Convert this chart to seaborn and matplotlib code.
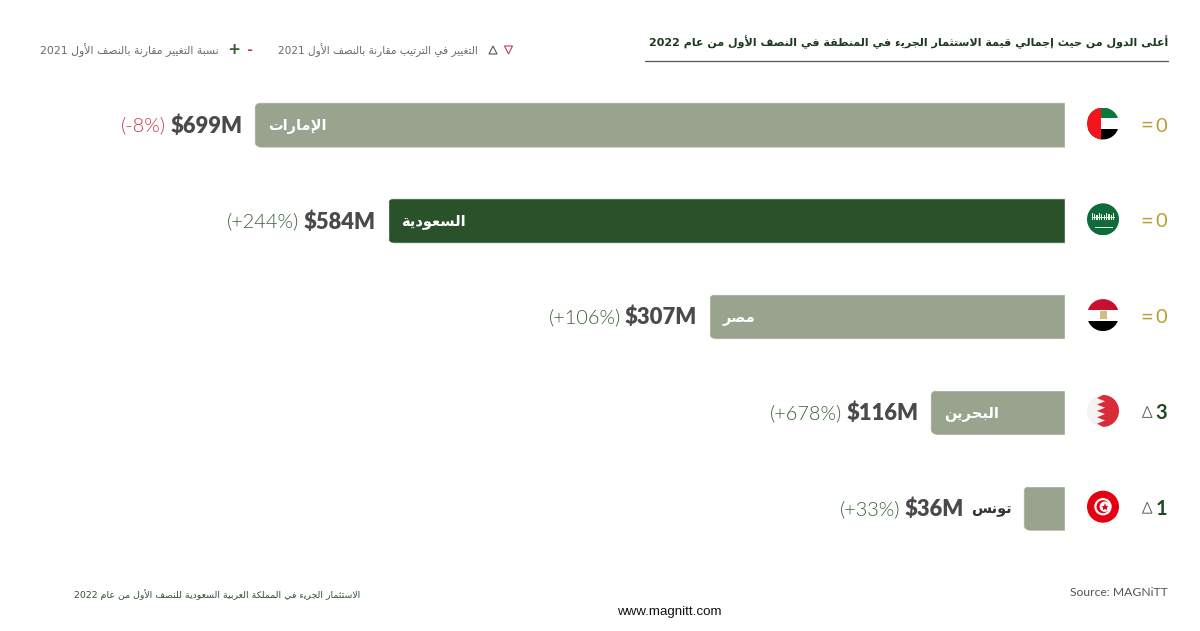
import matplotlib
matplotlib.use("Agg")
import matplotlib.pyplot as plt
from matplotlib.patches import Circle, FancyBboxPatch, Polygon, Rectangle
from matplotlib.transforms import IdentityTransform
import pandas as pd
import seaborn as sns

# ---------- data ----------
countries = ["الإمارات", "السعودية", "مصر", "البحرين", "تونس"]
values = [699, 584, 307, 116, 36]
changes = ["(-8%)", "(+244%)", "(+106%)", "(+678%)", "(+33%)"]
change_dirs = ["down", "up", "up", "up", "up"]
rank_change = [0, 0, 0, 3, 1]
value_labels = ["$699M", "$584M", "$307M", "$116M", "$36M"]
highlight = "السعودية"

title = "أعلى الدول من حيث إجمالي قيمة الاستثمار الجريء في المنطقة في النصف الأول من عام 2022"
legend_rank = "التغيير في الترتيب مقارنة بالنصف الأول 2021"
legend_pct = "نسبة التغيير مقارنة بالنصف الأول 2021"
footer = "الاستثمار الجريء في المملكة العربية السعودية للنصف الأول من عام 2022"
source = "Source: MAGNiTT"
site = "www.magnitt.com"

# ---------- Arabic shaping (matplotlib has no shaper) ----------
# letter: (isolated, final, initial, medial)
FORMS = {
    "ء": (0xFE80,), "آ": (0xFE81, 0xFE82), "أ": (0xFE83, 0xFE84), "ؤ": (0xFE85, 0xFE86),
    "إ": (0xFE87, 0xFE88), "ئ": (0xFE89, 0xFE8A, 0xFE8B, 0xFE8C), "ا": (0xFE8D, 0xFE8E),
    "ب": (0xFE8F, 0xFE90, 0xFE91, 0xFE92), "ة": (0xFE93, 0xFE94),
    "ت": (0xFE95, 0xFE96, 0xFE97, 0xFE98), "ث": (0xFE99, 0xFE9A, 0xFE9B, 0xFE9C),
    "ج": (0xFE9D, 0xFE9E, 0xFE9F, 0xFEA0), "ح": (0xFEA1, 0xFEA2, 0xFEA3, 0xFEA4),
    "خ": (0xFEA5, 0xFEA6, 0xFEA7, 0xFEA8), "د": (0xFEA9, 0xFEAA), "ذ": (0xFEAB, 0xFEAC),
    "ر": (0xFEAD, 0xFEAE), "ز": (0xFEAF, 0xFEB0), "س": (0xFEB1, 0xFEB2, 0xFEB3, 0xFEB4),
    "ش": (0xFEB5, 0xFEB6, 0xFEB7, 0xFEB8), "ص": (0xFEB9, 0xFEBA, 0xFEBB, 0xFEBC),
    "ض": (0xFEBD, 0xFEBE, 0xFEBF, 0xFEC0), "ط": (0xFEC1, 0xFEC2, 0xFEC3, 0xFEC4),
    "ظ": (0xFEC5, 0xFEC6, 0xFEC7, 0xFEC8), "ع": (0xFEC9, 0xFECA, 0xFECB, 0xFECC),
    "غ": (0xFECD, 0xFECE, 0xFECF, 0xFED0), "ف": (0xFED1, 0xFED2, 0xFED3, 0xFED4),
    "ق": (0xFED5, 0xFED6, 0xFED7, 0xFED8), "ك": (0xFED9, 0xFEDA, 0xFEDB, 0xFEDC),
    "ل": (0xFEDD, 0xFEDE, 0xFEDF, 0xFEE0), "م": (0xFEE1, 0xFEE2, 0xFEE3, 0xFEE4),
    "ن": (0xFEE5, 0xFEE6, 0xFEE7, 0xFEE8), "ه": (0xFEE9, 0xFEEA, 0xFEEB, 0xFEEC),
    "و": (0xFEED, 0xFEEE), "ى": (0xFEEF, 0xFEF0), "ي": (0xFEF1, 0xFEF2, 0xFEF3, 0xFEF4),
}
LAM_ALEF = {"آ": (0xFEF5, 0xFEF6), "أ": (0xFEF7, 0xFEF8), "إ": (0xFEF9, 0xFEFA), "ا": (0xFEFB, 0xFEFC)}


def ar(text):
    out = []
    i = 0
    n = len(text)
    while i < n:
        c = text[i]
        if c not in FORMS:
            out.append(c)
            i += 1
            continue
        prev = text[i - 1] if i else ""
        joins_prev = prev in FORMS and len(FORMS[prev]) == 4
        if c == "ل" and i + 1 < n and text[i + 1] in LAM_ALEF:
            out.append(chr(LAM_ALEF[text[i + 1]][1 if joins_prev else 0]))
            i += 2
            continue
        nxt = text[i + 1] if i + 1 < n else ""
        f = FORMS[c]
        joins_next = nxt in FORMS and len(f) == 4
        if joins_prev and joins_next:
            g = f[3]
        elif joins_next:
            g = f[2]
        elif joins_prev and len(f) > 1:
            g = f[1]
        else:
            g = f[0]
        out.append(chr(g))
        i += 1
    # visual order: reverse everything, keep digit runs left to right
    rev = "".join(out)[::-1]
    res, run = [], []
    for ch in rev:
        if ch.isdigit():
            run.append(ch)
        else:
            res.extend(run[::-1])
            run = []
            res.append(ch)
    res.extend(run[::-1])
    return "".join(res)


# ---------- figure ----------
sns.set_theme(style="white")
plt.rcParams["font.family"] = ["Lato", "DejaVu Sans"]
W, H = 1200, 631
PT = 0.72  # points per pixel at dpi 100
fig = plt.figure(figsize=(W / 100, H / 100), dpi=100, facecolor="white")
ax = fig.add_axes([0, 0, 1, 1])

GREY_BAR = "#99A38D"
DARK_BAR = "#2A522A"
df = pd.DataFrame({"country": countries, "value": values})
sns.barplot(
    data=df, y="country", x="value", hue="country", orient="h", dodge=False, legend=False,
    palette={c: (DARK_BAR if c == highlight else GREY_BAR) for c in countries},
    width=0.47, saturation=1, ax=ax,
)
PX_PER_UNIT = 1.16
ax.set_xlim(1065 / PX_PER_UNIT, (1065 - W) / PX_PER_UNIT)
ROW = 95.8
ax.set_ylim((H - 125) / ROW, -125 / ROW)
ax.axis("off")
fig.canvas.draw()

# rounded left corners on the bars
for patch in ax.patches:
    bb = patch.get_window_extent()
    clip = FancyBboxPatch(
        (bb.x0, bb.y0), bb.width + 20, bb.height,
        boxstyle="round,pad=0,rounding_size=8", transform=IdentityTransform(),
    )
    patch.set_clip_path(clip)

# overlay in pixel coordinates for the non-data furniture
ov = fig.add_axes([0, 0, 1, 1], facecolor="none")
ov.set_xlim(0, W)
ov.set_ylim(H, 0)
ov.axis("off")

AR = "DejaVu Sans"
TEXT_DARK = "#4A4A4D"
GREEN = "#3A6337"
RED = "#C23B52"
GOLD = "#BE9A33"
DGREEN = "#1F4A22"

# values, percent, country names
for i, (c, v, lab, ch, d) in enumerate(zip(countries, values, value_labels, changes, change_dirs)):
    if v > 100:
        ax.annotate(ar(c), xy=(v, i), xytext=(14 * PT, -1 * PT), textcoords="offset points",
                    ha="left", va="center", fontsize=10.5, fontweight="bold",
                    color="white", family=AR)
        anchor = dict(xy=(v, i), xytext=(-12 * PT, -1 * PT))
        t = ax.annotate(lab, textcoords="offset points", ha="right", va="center", fontsize=15.8,
                        fontweight=800, color=TEXT_DARK, family="Lato", **anchor)
    else:
        name = ax.annotate(ar(c), xy=(v, i), xytext=(-11 * PT, -1 * PT), textcoords="offset points",
                           ha="right", va="center", fontsize=10.5, fontweight="bold",
                           color="#333333", family=AR)
        t = ax.annotate(lab, xy=(0, 0.5), xycoords=name, xytext=(-8 * PT, 0), textcoords="offset points",
                        ha="right", va="center", fontsize=15.8, fontweight=800,
                        color=TEXT_DARK, family="Lato")
    ax.annotate(ch, xy=(0, 0.5), xycoords=t, xytext=(-4 * PT, 0), textcoords="offset points",
                ha="right", va="center", fontsize=14.3, fontweight=300,
                color=RED if d == "down" else GREEN, family="Lato")

# rank change
for i, rc in enumerate(rank_change):
    y = 125 + i * ROW
    col = GOLD if rc == 0 else DGREEN
    ov.text(1167, y + 1, str(rc), ha="right", va="center", fontsize=14.5, color=col, family="Lato",
            fontweight="bold" if rc else "normal")
    if rc == 0:
        ov.text(1147, y + 1, "=", ha="center", va="center", fontsize=16, color=GOLD, family="Lato")
    else:
        ov.add_patch(Polygon([(1142.5, y + 5), (1152, y + 5), (1147.2, y - 6)], closed=True,
                             fill=False, ec="#4F6350", lw=0.7))

# flags
cx, R = 1103, 16


def flag_circle(y):
    return Circle((cx, y), R, transform=ov.transData)


def rect(y, x0, y0, w, h, col):
    p = Rectangle((x0, y0), w, h, fc=col, ec="none")
    ov.add_patch(p)
    p.set_clip_path(flag_circle(y))
    return p


ys = [123.5 + i * ROW for i in range(5)]
# UAE
y = ys[0]
rect(y, cx - R, y - R, 2 * R, 10.5, "#0A7A3C")
rect(y, cx - R, y - R + 10.5, 2 * R, 10.5, "#FFFFFF")
rect(y, cx - R, y - R + 21, 2 * R, 11, "#000000")
rect(y, cx - R, y - R, 14, 2 * R, "#F4141C")
# Saudi
y = ys[1]
rect(y, cx - R, y - R, 2 * R, 2 * R, "#0F6B3A")
for k in range(10):
    rect(y, cx - 11.5 + k * 2.4, y - 6 + (k % 3), 1.3, 6.5 - (k % 3), "#E4EEE2")
rect(y, cx - 11.5, y - 2.5, 23, 1.2, "#E4EEE2")
rect(y, cx - 8, y + 7.5, 18, 1.1, "#E8F0E6")
# Egypt
y = ys[2]
rect(y, cx - R, y - R, 2 * R, 10.5, "#C8102E")
rect(y, cx - R, y - R + 10.5, 2 * R, 11, "#FFFFFF")
rect(y, cx - R, y - R + 21.5, 2 * R, 10.5, "#000000")
rect(y, cx - 3.5, y - 4, 7, 7.5, "#D2BC7E")
# Bahrain
y = ys[3]
rect(y, cx - R, y - R, 2 * R, 2 * R, "#F3F3F3")
zig = [(2, -17), (-6, -12.8), (2, -9.6), (-6, -6.4), (2, -3.2), (-6, 0), (2, 3.2), (-6, 6.4), (2, 9.6), (-6, 12.8), (2, 17)]
pts = [(cx + 17, y - 17)] + [(cx + a, y + b) for a, b in zig] + [(cx + 17, y + 17)]
p = Polygon(pts, closed=True, fc="#DA2C38", ec="none")
ov.add_patch(p)
p.set_clip_path(flag_circle(y))
# Tunisia
y = ys[4]
ov.add_patch(Circle((cx, y), R, fc="#E70013", ec="none"))
ov.add_patch(Circle((cx, y), 8.7, fc="white", ec="none"))
ov.add_patch(Circle((cx, y), 6.5, fc="#E70013", ec="none"))
ov.add_patch(Circle((cx + 1.8, y), 5.2, fc="white", ec="none"))
ov.plot([cx + 1.8], [y], marker="*", ms=6, color="#E70013", mew=0)

# header
ov.text(1168, 42, ar(title), ha="right", va="center", fontsize=8.05, fontweight="bold",
        color="#1B3A20", family=AR)
ov.plot([645, 1168], [61, 61], color="#555555", lw=0.9)

# legend
LEG = "#6B6B6B"
ov.add_patch(Polygon([(504.5, 46), (512.5, 46), (508.5, 54)], closed=True, fill=False, ec=RED, lw=0.8))
ov.add_patch(Polygon([(489, 54), (497, 54), (493, 46)], closed=True, fill=False, ec="#555555", lw=0.8))
ov.text(478, 50, ar(legend_rank), ha="right", va="center", fontsize=7.6, color=LEG, family=AR)
ov.text(250, 50, "-", ha="center", va="center", fontsize=12, fontweight="bold", color=RED, family="Lato")
ov.text(234, 50.5, "+", ha="center", va="center", fontsize=14, fontweight="bold", color=GREEN, family="Lato")
ov.text(219, 50, ar(legend_pct), ha="right", va="center", fontsize=7.85, color=LEG, family=AR)

# footer
ov.text(360, 595, ar(footer), ha="right", va="center", fontsize=6.75, color="#2F5233", family=AR)
ov.text(1168, 593, source, ha="right", va="center", fontsize=8.7, color="#555555", family="Lato")
ov.text(669, 612.5, site, ha="center", va="center", fontsize=9.6, color="#111111", family="Liberation Sans")

fig.savefig("out.png", dpi=100, facecolor="white")
